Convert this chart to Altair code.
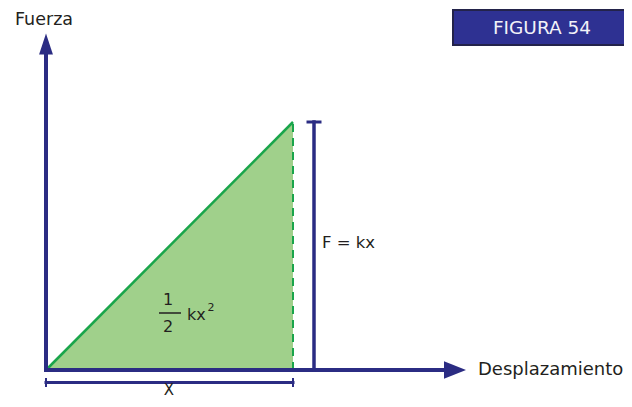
import altair as alt
import pandas as pd

# coordinate units: origin at the axes corner
NAVY = "#2b2c83"
GREEN = "#1aa54b"
FILL = "#a0d08b"
TXT = "#231f20"
FONT = "DejaVu Sans"

# triangle (work area) data
tri_x = [0, 247]
tri_y = [0, 248]

# navy segments: x, y, x2, y2, width
seg_x1 = [0, 0, 268, 262, 0]
seg_y1 = [0, 0, 0, 248, -12.5]
seg_x2 = [0, 400, 268, 274, 247]
seg_y2 = [318, 0, 248, 248, -12.5]
seg_w = [4, 4, 3.5, 3, 3]

# bracket end ticks
tick_x = [0, 247]
tick_y1 = [-8, -8]
tick_y2 = [-17, -17]

# arrowheads
arr_x = [0, 409]
arr_y = [326, 0]

# labels
lab_text = ["Fuerza", "F = kx", "Desplazamiento", "X", "1", "2", "kx", "2"]
lab_x = [-31, 276, 432, 123, 122, 122, 141, 161.5]
lab_y = [350, 127, 0, -25, 70, 43.5, 55, 62]
lab_align = ["left", "left", "left", "center", "center", "center", "left", "left"]
lab_base = ["middle", "middle", "middle", "alphabetic", "middle", "middle", "middle", "middle"]
lab_size = [17.5, 16.5, 18, 15, 16, 16, 16, 11]

X = alt.X("x:Q", scale=alt.Scale(domain=[-38, 578], nice=False, zero=False), axis=None)
Y = alt.Y("y:Q", scale=alt.Scale(domain=[-29, 362], nice=False, zero=False), axis=None)

tri = pd.DataFrame({"x": tri_x, "y": tri_y, "y2": [0, 0]})
area = alt.Chart(tri).mark_area(color=FILL, opacity=1).encode(x=X, y=Y, y2="y2:Q")

hyp = alt.Chart(pd.DataFrame({"x": [tri_x[0]], "y": [tri_y[0]], "x2": [tri_x[1]], "y2": [tri_y[1]]})).mark_rule(
    color=GREEN, strokeWidth=2.5).encode(x=X, y=Y, x2="x2:Q", y2="y2:Q")

dash = alt.Chart(pd.DataFrame({"x": [tri_x[1]], "y": [0], "y2": [tri_y[1]]})).mark_rule(
    color=GREEN, strokeWidth=2, strokeDash=[8, 6]).encode(x=X, y=Y, y2="y2:Q")

segs = pd.DataFrame({"x": seg_x1, "y": seg_y1, "x2": seg_x2, "y2": seg_y2, "w": seg_w})
seg_layer = alt.Chart(segs).mark_rule(color=NAVY, strokeCap="square").encode(
    x=X, y=Y, x2="x2:Q", y2="y2:Q", strokeWidth=alt.StrokeWidth("w:Q", scale=None))

ticks = pd.DataFrame({"x": tick_x, "y": tick_y1, "y2": tick_y2})
tick_layer = alt.Chart(ticks).mark_rule(color=NAVY, strokeWidth=2).encode(x=X, y=Y, y2="y2:Q")

up = alt.Chart(pd.DataFrame({"x": [arr_x[0]], "y": [arr_y[0]]})).mark_point(
    shape="M0,-1L0.66,1L-0.66,1Z", size=441, filled=True, color=NAVY, opacity=1).encode(x=X, y=Y)
right = alt.Chart(pd.DataFrame({"x": [arr_x[1]], "y": [arr_y[1]]})).mark_point(
    shape="M1,0L-1,0.8L-1,-0.8Z", size=484, filled=True, color=NAVY, opacity=1).encode(x=X, y=Y)

# fraction bar
fbar = alt.Chart(pd.DataFrame({"x": [113], "x2": [135], "y": [57]})).mark_rule(
    color=TXT, strokeWidth=1.5).encode(x=X, x2="x2:Q", y=Y)

labs = pd.DataFrame({"t": lab_text, "x": lab_x, "y": lab_y})
text_layers = []
for i in range(len(lab_text)):
    text_layers.append(
        alt.Chart(labs.iloc[[i]]).mark_text(
            align=lab_align[i], baseline=lab_base[i], font=FONT, fontSize=lab_size[i], color=TXT
        ).encode(x=X, y=Y, text="t:N")
    )

# figure label box
box = alt.Chart(pd.DataFrame({"x": [407], "x2": [582], "y": [325], "y2": [360]})).mark_rect(
    fill="#2e3192", stroke="#23234a", strokeWidth=2).encode(x=X, x2="x2:Q", y=Y, y2="y2:Q")
box_text = alt.Chart(pd.DataFrame({"x": [496], "y": [342.5], "t": ["FIGURA 54"]})).mark_text(
    align="center", baseline="middle", font=FONT, fontSize=18.5, color="#f2f2f8").encode(x=X, y=Y, text="t:N")

chart = alt.layer(area, dash, hyp, seg_layer, tick_layer, up, right, fbar, *text_layers, box, box_text).properties(
    width=616, height=391, padding=0, autosize=alt.AutoSizeParams(type="none"), background="white"
).configure_view(stroke=None)

chart.save("out.html", embed_options={"renderer": "svg", "actions": False})
